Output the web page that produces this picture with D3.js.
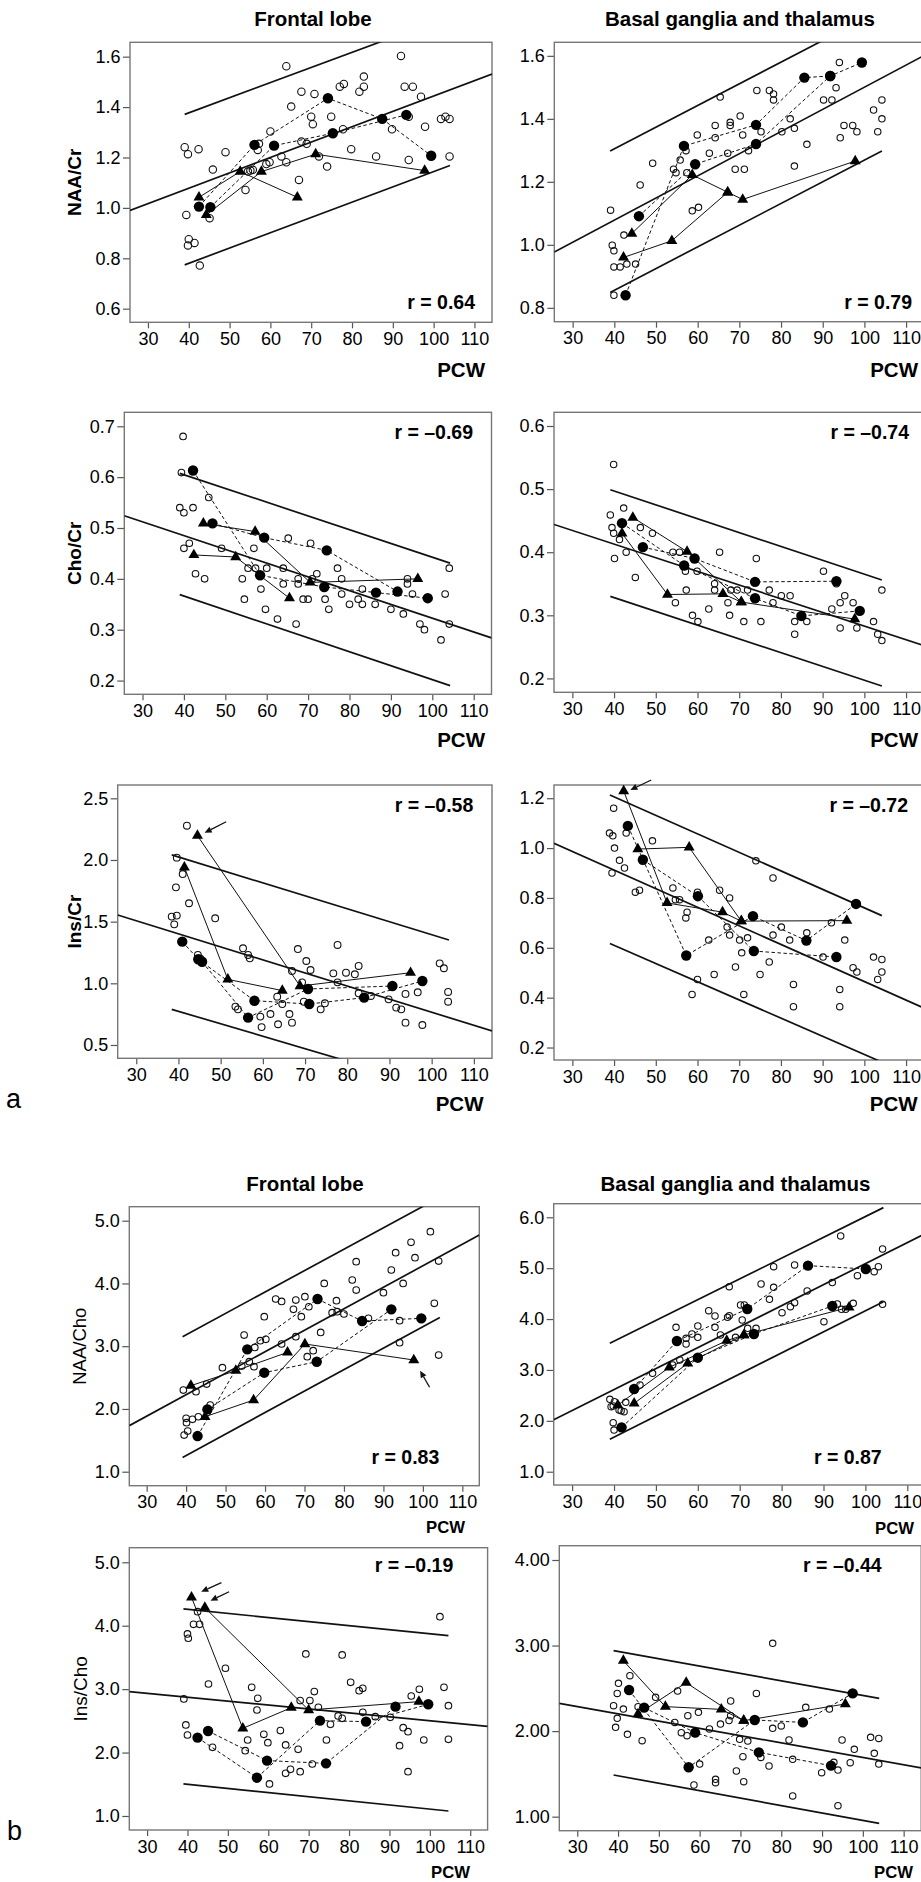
<!DOCTYPE html>
<html><head><meta charset="utf-8">
<script src="https://cdn.jsdelivr.net/npm/d3@7"></script>
<style>
body{margin:0;background:#fff}
svg{display:block}
text{font-family:"Liberation Sans",Arial,Helvetica,sans-serif;fill:#000}
</style>
</head><body>
<svg id="c" width="921" height="1882"></svg>
<script>
// ---------- shared axis values ----------
const xTicks = [30,40,50,60,70,80,90,100,110];
const xDomain = [25.6,114.3];

// ---------- Panel a1 left: NAA/Cr, frontal lobe ----------
const naaCrFL_open = [[39.0,1.241],[39.8,1.213],[42.4,1.233],[39.4,0.972],[40.0,0.876],[39.8,0.851],[41.4,0.861],[42.7,0.771],[45.9,1.152],[49.0,1.221],[45.1,0.959],[53.9,1.071],[54.5,1.144],[55.1,1.148],[55.7,1.151],[57.2,1.254],[56.9,1.230],[60.0,1.303],[59.0,1.174],[59.8,1.181],[62.7,1.204],[63.9,1.181],[63.9,1.562],[65.1,1.402],[67.6,1.461],[67.0,1.111],[67.6,1.263],[68.9,1.254],[70.0,1.362],[70.4,1.332],[70.8,1.452],[71.9,1.204],[73.9,1.164],[74.9,1.362],[77.8,1.312],[77.0,1.481],[78.0,1.492],[79.8,1.233],[81.8,1.461],[82.9,1.481],[82.9,1.521],[85.9,1.204],[89.8,1.312],[92.0,1.603],[92.9,1.481],[93.9,1.190],[93.9,1.362],[94.9,1.481],[96.9,1.441],[97.9,1.322],[101.8,1.353],[102.9,1.362],[103.9,1.353],[103.9,1.204]];
const naaCrFL_circ = [[[42.5,1.005],[56.1,1.250],[74.1,1.435],[87.4,1.353],[99.4,1.207]],[[45.3,1.003],[60.9,1.247],[75.3,1.296],[93.3,1.369]]];
const naaCrFL_tri = [[[42.5,1.042],[52.6,1.144],[66.6,1.042]],[[44.3,0.972],[57.8,1.144],[71.1,1.213],[97.8,1.148]]];
const naaCrFL_fit = [[[25.6,0.990],[114.3,1.531]],[[39,1.371],[104,1.761]],[[39,0.774],[104,1.168]]];

// ---------- Panel a1 right: NAA/Cr, basal ganglia ----------
const naaCrBG_open = [[39.1,1.110],[39.5,0.999],[39.9,0.981],[39.9,0.930],[41.4,0.930],[42.3,1.031],[43.0,0.939],[45.1,0.939],[39.9,0.840],[46.2,1.190],[49.2,1.259],[54.2,1.240],[54.8,1.229],[55.8,1.269],[57.2,1.299],[57.4,1.229],[58.7,1.108],[60.2,1.119],[59.9,1.349],[62.8,1.291],[64.2,1.340],[64.2,1.379],[65.4,1.469],[67.2,1.291],[67.8,1.389],[67.8,1.379],[69.0,1.240],[70.2,1.409],[70.8,1.349],[71.2,1.240],[72.2,1.299],[74.2,1.490],[75.2,1.359],[77.2,1.490],[78.2,1.479],[78.2,1.460],[80.2,1.359],[82.2,1.400],[83.2,1.370],[83.2,1.250],[86.2,1.319],[90.2,1.460],[92.2,1.460],[93.2,1.499],[94.0,1.579],[94.2,1.340],[95.1,1.379],[97.2,1.379],[98.2,1.359],[102.2,1.428],[103.2,1.359],[104.2,1.460],[104.2,1.400]];
const naaCrBG_circ = [[[42.7,0.840],[56.7,1.314],[74.0,1.381],[85.6,1.531],[91.8,1.536]],[[45.9,1.091],[59.4,1.256],[74.0,1.320],[91.8,1.536],[99.4,1.579]]];
const naaCrBG_tri = [[[44.2,1.036],[58.7,1.222],[67.2,1.167],[70.8,1.144],[97.8,1.266]],[[42.2,0.960],[53.8,1.013],[67.2,1.167]]];
const naaCrBG_fit = [[[25.6,0.977],[114.3,1.601]],[[39,1.298],[104,1.745]],[[39,0.849],[104.2,1.298]]];

// ---------- Panel a2 left: Cho/Cr, frontal lobe ----------
const choCrFL_open = [[39.8,0.680],[39.4,0.609],[39.0,0.540],[40.0,0.530],[42.2,0.540],[40.0,0.460],[41.3,0.470],[42.8,0.410],[45.0,0.400],[46.0,0.560],[49.1,0.460],[54.1,0.400],[54.6,0.360],[55.5,0.421],[56.9,0.460],[57.3,0.421],[58.6,0.380],[59.7,0.340],[60.0,0.421],[62.6,0.321],[64.0,0.421],[64.0,0.390],[65.2,0.480],[67.1,0.311],[67.6,0.400],[67.6,0.390],[68.8,0.360],[70.0,0.360],[70.6,0.470],[72.1,0.410],[71.0,0.400],[74.1,0.360],[75.0,0.340],[77.1,0.421],[78.1,0.400],[78.1,0.370],[80.0,0.350],[82.1,0.360],[83.1,0.350],[83.1,0.380],[86.2,0.350],[90.0,0.340],[93.0,0.331],[94.0,0.400],[94.0,0.390],[95.2,0.370],[97.0,0.311],[98.1,0.300],[102.1,0.280],[103.1,0.370],[104.1,0.421],[104.1,0.311]];
const choCrFL_circ = [[[42.2,0.613],[58.4,0.407],[73.9,0.384],[86.4,0.373],[98.9,0.362]],[[46.9,0.509],[59.4,0.481],[74.5,0.456],[91.6,0.375]]];
const choCrFL_tri = [[[42.4,0.447],[52.5,0.443],[65.5,0.362]],[[44.7,0.509],[57.2,0.493],[70.5,0.393],[96.5,0.400]]];
const choCrFL_fit = [[[25.6,0.524],[114.3,0.284]],[[39,0.6075],[104.3,0.431]],[[39,0.369],[104.3,0.190]]];

// ---------- Panel a2 right: Cho/Cr, basal ganglia ----------
const choCrBG_open = [[39.9,0.539],[39.1,0.459],[39.5,0.439],[39.9,0.430],[41.3,0.420],[40.1,0.390],[42.3,0.470],[42.9,0.400],[45.1,0.360],[46.3,0.439],[49.2,0.430],[54.1,0.400],[55.7,0.400],[57.1,0.370],[59.9,0.370],[57.3,0.340],[54.7,0.320],[58.8,0.300],[60.1,0.290],[62.7,0.310],[64.1,0.350],[64.1,0.340],[65.3,0.400],[67.3,0.320],[67.7,0.300],[68.0,0.340],[69.5,0.340],[71.1,0.290],[72.0,0.340],[74.1,0.390],[75.2,0.290],[77.2,0.340],[78.1,0.320],[80.1,0.331],[82.2,0.331],[83.3,0.290],[83.3,0.270],[86.2,0.290],[90.2,0.370],[92.2,0.310],[94.2,0.280],[94.2,0.320],[95.3,0.331],[97.3,0.320],[93.3,0.350],[98.2,0.280],[102.2,0.290],[103.2,0.270],[104.2,0.340],[104.2,0.260]];
const choCrBG_circ = [[[41.9,0.446],[56.8,0.379],[73.8,0.327],[84.9,0.299],[98.9,0.307]],[[46.9,0.408],[59.3,0.390],[73.8,0.353],[93.3,0.354]]];
const choCrBG_tri = [[[44.5,0.455],[57.5,0.401],[70.5,0.321],[97.7,0.294]],[[41.9,0.430],[52.8,0.333],[66.1,0.334],[70.5,0.321]]];
const choCrBG_fit = [[[25.6,0.444],[114.3,0.252]],[[39.1,0.499],[104.2,0.356]],[[39.1,0.330],[104.2,0.188]]];

// ---------- Panel a3 left: Ins/Cr, frontal lobe ----------
const insCrFL_open = [[42.0,2.278],[39.6,2.019],[41.0,1.886],[39.4,1.778],[42.5,1.649],[38.4,1.541],[39.6,1.549],[39.0,1.478],[48.7,1.527],[44.6,1.230],[45.6,1.168],[45.2,1.200],[55.3,1.284],[56.5,1.230],[56.9,1.203],[53.5,0.811],[54.1,0.789],[59.4,0.730],[59.7,0.645],[61.8,0.751],[63.4,0.892],[64.6,0.832],[63.6,0.668],[66.3,0.751],[66.9,0.681],[66.9,1.100],[68.3,1.278],[69.3,1.008],[70.3,1.181],[71.3,1.108],[69.7,0.851],[73.7,0.789],[74.7,0.838],[76.7,1.081],[77.7,1.311],[77.7,1.008],[79.7,1.086],[81.8,1.073],[82.7,1.141],[82.7,0.919],[85.6,0.897],[89.8,0.870],[91.6,0.803],[92.8,0.789],[93.8,0.914],[93.8,0.681],[96.7,0.927],[97.8,0.662],[101.9,1.162],[102.9,1.122],[103.9,0.930],[103.9,0.851]];
const insCrFL_circ = [[[40.9,1.338],[44.7,1.195],[58.0,0.859],[71.0,0.832],[84.0,0.884],[97.8,1.019]],[[45.6,1.175],[56.5,0.722],[70.7,0.954],[90.7,0.978]]];
const insCrFL_tri = [[[44.5,2.197],[68.8,0.978],[95.0,1.086]],[[41.4,1.941],[51.7,1.032],[64.6,0.941]]];
const insCrFL_fit = [[[25.6,1.554],[114.3,0.614]],[[38.4,2.041],[104.1,1.351]],[[38.4,0.789],[104.0,0.126]]];
const insCrFL_arrows = [[[51.3,2.310],[46.2,2.221]]];

// ---------- Panel a3 right: Ins/Cr, basal ganglia ----------
const insCrBG_open = [[39.9,1.160],[38.9,1.060],[39.7,1.049],[40.1,1.000],[41.3,0.951],[42.5,0.920],[39.5,0.900],[42.9,1.060],[49.2,1.029],[45.1,0.823],[46.1,0.831],[54.1,0.840],[54.7,0.793],[55.7,0.793],[57.5,0.743],[57.2,0.720],[60.0,0.823],[65.3,0.831],[67.7,0.800],[67.1,0.683],[67.7,0.651],[62.7,0.631],[70.1,0.631],[70.6,0.580],[72.0,0.640],[74.0,0.949],[78.1,0.880],[78.1,0.651],[80.1,0.683],[82.1,0.631],[86.2,0.660],[92.1,0.700],[90.1,0.563],[95.3,0.631],[97.3,0.520],[98.2,0.503],[102.2,0.563],[104.2,0.553],[104.2,0.503],[103.2,0.473],[77.2,0.543],[75.0,0.493],[69.1,0.523],[64.0,0.493],[60.0,0.473],[58.7,0.413],[71.1,0.413],[83.0,0.453],[83.0,0.364],[94.1,0.433],[94.1,0.364]];
const insCrBG_circ = [[[43.3,1.089],[57.3,0.569],[73.3,0.727],[86.1,0.629],[98.0,0.776]],[[46.9,0.953],[60.1,0.807],[73.5,0.587],[93.3,0.563]]];
const insCrBG_tri = [[[42.3,1.229],[52.7,0.780],[66.0,0.743],[70.5,0.707]],[[45.7,0.996],[58.0,1.003],[70.5,0.707],[95.8,0.709]]];
const insCrBG_fit = [[[25.6,1.019],[114.3,0.358]],[[39,1.213],[104.2,0.729]],[[39,0.617],[104,0.143]]];
const insCrBG_arrows = [[[48.9,1.273],[43.9,1.233]]];

// ---------- Panel b1 left: NAA/Cho, frontal lobe ----------
const naaChoFL_open = [[39.3,2.301],[40.0,1.850],[40.1,1.781],[40.4,1.648],[39.5,1.584],[41.6,1.834],[42.5,2.275],[43.1,1.876],[45.2,2.397],[46.1,2.062],[49.2,2.657],[54.1,2.684],[54.7,3.178],[56.0,2.753],[57.2,2.673],[57.4,2.981],[58.8,3.088],[60.2,3.109],[59.8,3.470],[62.7,3.752],[64.2,3.714],[64.2,3.035],[67.2,3.587],[67.8,3.151],[67.8,3.735],[69.2,3.470],[70.1,3.789],[71.1,3.629],[70.7,2.833],[72.2,2.928],[74.1,3.220],[75.0,4.001],[77.0,3.534],[78.3,3.550],[78.1,3.725],[80.0,3.513],[82.1,4.055],[83.1,3.895],[83.1,4.347],[86.2,3.444],[90.0,3.853],[92.0,4.214],[93.1,4.490],[94.1,3.406],[94.1,3.056],[95.0,4.001],[97.0,4.655],[98.0,4.410],[101.9,4.825],[102.9,3.683],[104.0,4.357],[104.0,2.859]];
const naaChoFL_circ = [[[42.9,1.568],[55.5,2.950],[73.3,3.752],[84.6,3.401],[99.6,3.444]],[[45.4,1.993],[59.8,2.578],[73.1,2.753],[92.0,3.587]]];
const naaChoFL_tri = [[[41.2,2.371],[52.6,2.610],[65.7,2.902]],[[44.8,1.876],[57.1,2.142],[70.1,3.035],[97.7,2.780]]];
const naaChoFL_fit = [[[25.6,1.734],[114.3,4.771]],[[39.1,3.151],[104.3,5.374]],[[39.1,1.228],[104.3,3.459]]];
const naaChoFL_arrows = [[[101.7,2.345],[99.3,2.610]]];

// ---------- Panel b1 right: NAA/Cho, basal ganglia ----------
const naaChoBG_open = [[39.0,2.422],[39.8,2.291],[39.3,2.278],[40.1,2.376],[41.2,2.212],[41.7,2.199],[42.4,2.180],[42.8,2.363],[39.8,1.963],[40.0,1.819],[46.2,2.704],[49.2,2.933],[54.8,3.838],[54.0,3.097],[55.7,3.195],[57.2,3.621],[57.2,3.510],[58.6,3.706],[60.0,3.864],[60.0,3.641],[62.6,4.165],[64.1,4.060],[64.1,3.838],[65.4,3.687],[67.5,4.637],[67.1,4.034],[67.5,4.067],[69.0,3.641],[70.2,4.277],[70.6,3.982],[71.1,4.277],[71.9,3.818],[73.9,3.818],[75.1,4.689],[77.1,4.388],[78.1,5.030],[78.1,4.624],[80.1,4.126],[82.1,4.244],[83.1,4.322],[83.1,5.063],[86.1,4.552],[90.1,3.949],[92.1,4.716],[93.3,4.296],[94.3,4.191],[94.1,5.633],[95.3,4.191],[97.1,4.309],[98.1,4.853],[102.1,4.932],[103.1,5.030],[104.1,5.377],[104.1,4.290]];
const naaChoBG_circ = [[[44.8,2.625],[55.0,3.569],[71.8,4.198],[86.3,5.050],[100.1,4.984]],[[41.8,1.872],[60.0,3.241],[73.4,3.706],[92.1,4.257]]];
const naaChoBG_tri = [[[40.9,2.311],[53.2,3.051],[66.9,3.575],[71.0,3.687],[96.1,4.231]],[[44.8,2.343],[57.6,3.130],[71.0,3.687]]];
const naaChoBG_fit = [[[25.6,2.021],[114.3,5.678]],[[39,3.523],[104.3,6.190]],[[39,1.636],[104.3,4.342]]];

// ---------- Panel b2 left: Ins/Cho, frontal lobe ----------
const insChoFL_open = [[39.1,2.845],[39.6,2.435],[40.0,2.277],[40.0,3.870],[40.2,3.802],[41.5,4.022],[43.0,4.022],[42.5,4.222],[45.2,3.081],[46.2,2.083],[49.4,3.329],[54.3,2.030],[54.9,2.198],[55.9,3.028],[57.4,2.855],[57.2,2.671],[58.9,2.288],[59.9,2.156],[60.3,1.505],[63.0,2.346],[64.3,1.673],[64.3,2.120],[65.5,1.736],[67.4,2.051],[67.9,1.699],[67.9,2.819],[69.3,3.555],[70.3,2.819],[71.4,2.961],[72.4,2.714],[70.9,1.820],[74.4,2.198],[75.4,2.445],[77.3,2.577],[78.3,2.540],[78.3,3.539],[80.4,3.108],[82.5,2.976],[83.4,3.013],[83.4,2.635],[86.5,2.566],[90.2,2.556],[93.4,2.393],[92.5,2.109],[94.6,2.330],[94.6,1.699],[95.4,2.892],[97.4,2.997],[98.5,2.198],[102.5,4.143],[103.5,3.029],[104.6,2.740],[104.6,2.209]];
const insChoFL_circ = [[[42.5,2.235],[57.2,1.604],[72.8,2.503],[84.2,2.488],[99.6,2.761]],[[45.1,2.340],[59.7,1.873],[74.3,1.830],[91.5,2.724]]];
const insChoFL_tri = [[[41.0,4.448],[53.7,2.382],[65.7,2.708]],[[44.3,4.285],[70.0,2.671],[97.3,2.803]]];
const insChoFL_fit = [[[25.6,2.962],[114.3,2.412]],[[39,4.264],[104.6,3.844]],[[39,1.505],[104.6,1.079]]];
const insChoFL_arrows = [[[48.4,4.678],[43.4,4.536]],[[50.3,4.536],[45.7,4.394]]];

// ---------- Panel b2 right: Ins/Cho, basal ganglia ----------
const insChoBG_open = [[38.9,2.297],[40.1,2.558],[39.8,2.441],[39.8,2.149],[39.4,2.044],[41.3,2.258],[42.3,1.962],[42.9,2.648],[44.9,2.286],[45.9,1.888],[49.2,2.395],[54.6,2.469],[53.9,2.102],[55.5,1.982],[56.9,1.947],[57.1,2.180],[59.7,2.219],[60.0,1.615],[58.6,1.370],[62.4,2.025],[63.9,1.436],[63.9,1.397],[65.1,2.082],[67.2,2.124],[67.6,2.180],[67.6,2.352],[69.8,1.904],[70.6,1.701],[70.8,1.409],[69.0,1.534],[71.8,1.884],[73.9,2.441],[75.0,1.693],[77.0,1.592],[77.9,3.026],[77.9,2.032],[80.0,2.060],[81.9,1.896],[82.8,1.670],[82.8,1.242],[86.0,2.278],[89.9,1.514],[91.8,2.258],[92.9,1.635],[93.9,1.545],[93.9,1.129],[94.9,1.896],[96.9,1.631],[97.9,1.787],[101.9,1.927],[102.8,1.740],[103.9,1.915],[103.9,1.615]];
const insChoBG_circ = [[[42.7,2.480],[57.3,1.577],[73.5,2.130],[85.3,2.102],[97.5,2.441]],[[46.4,2.274],[58.9,1.982],[74.5,1.752],[92.2,1.596]]];
const insChoBG_tri = [[[41.3,2.823],[51.6,2.286],[65.3,2.254],[70.8,2.122]],[[44.9,2.200],[56.7,2.566],[70.8,2.122],[95.7,2.317]]];
const insChoBG_fit = [[[25.6,2.325],[114.3,1.570]],[[38.9,2.940],[104.0,2.383]],[[38.9,1.487],[104.0,0.922]]];

// ---------- axis tick values and labels ----------
const yTicks_naaCrFL = [0.6,0.8,1.0,1.2,1.4,1.6];
const yTicks_naaCrBG = [0.8,1.0,1.2,1.4,1.6];
const yTicks_choCrFL = [0.2,0.3,0.4,0.5,0.6,0.7];
const yTicks_choCrBG = [0.2,0.3,0.4,0.5,0.6];
const yTicks_insCrFL = [0.5,1.0,1.5,2.0,2.5];
const yTicks_insCrBG = [0.2,0.4,0.6,0.8,1.0,1.2];
const yTicks_naaChoFL = [1,2,3,4,5];
const yTicks_naaChoBG = [1,2,3,4,5,6];
const yTicks_insChoFL = [1,2,3,4,5];
const yTicks_insChoBG = [1,2,3,4];
const rLabels = ["r = 0.64","r = 0.79","r = \u20130.69","r = \u20130.74","r = \u20130.58","r = \u20130.72","r = 0.83","r = 0.87","r = \u20130.19","r = \u20130.44"];
const yLabels = ["NAA/Cr","","Cho/Cr","","Ins/Cr","","NAA/Cho","","Ins/Cho",""];
const regionTitles = ["Frontal lobe","Basal ganglia and thalamus"];

// ---------- layout (positions only) ----------
const panels = [
 {open:naaCrFL_open,circ:naaCrFL_circ,tri:naaCrFL_tri,fit:naaCrFL_fit,arrows:[],yT:yTicks_naaCrFL,fmt:".1f",
  L:130,T:42.3,R:492,B:322.3,yd:[0.546,1.657],ro:3.7,title:[313,26,0],rx:475,ry:309,px:485,py:376.7,ps:20.5,yl:[74,0,true,19]},
 {open:naaCrBG_open,circ:naaCrBG_circ,tri:naaCrBG_tri,fit:naaCrBG_fit,arrows:[],yT:yTicks_naaCrBG,fmt:".1f",
  L:554.3,T:42.3,R:924,B:321.7,yd:[0.756,1.643],ro:3.2,title:[740,26,1],rx:912,ry:309,px:918,py:376.7,ps:20.5,yl:null},
 {open:choCrFL_open,circ:choCrFL_circ,tri:choCrFL_tri,fit:choCrFL_fit,arrows:[],yT:yTicks_choCrFL,fmt:".1f",
  L:124.3,T:412.3,R:491.5,B:694.3,yd:[0.173,0.7275],ro:3.3,title:null,rx:473,ry:439,px:485,py:747.3,ps:20.5,yl:[74,0,true,19]},
 {open:choCrBG_open,circ:choCrBG_circ,tri:choCrBG_tri,fit:choCrBG_fit,arrows:[],yT:yTicks_choCrBG,fmt:".1f",
  L:554,T:412.3,R:924,B:692.3,yd:[0.178,0.6217],ro:3.2,title:null,rx:909,ry:439,px:918,py:747.3,ps:20.5,yl:null},
 {open:insCrFL_open,circ:insCrFL_circ,tri:insCrFL_tri,fit:insCrFL_fit,arrows:insCrFL_arrows,yT:yTicks_insCrFL,fmt:".1f",
  L:117.7,T:785,R:492,B:1058.3,yd:[0.392,2.608],ro:3.4,title:null,rx:473.3,ry:811.7,px:483.5,py:1110.7,ps:20.5,yl:[74,0,true,19]},
 {open:insCrBG_open,circ:insCrBG_circ,tri:insCrBG_tri,fit:insCrBG_fit,arrows:insCrBG_arrows,yT:yTicks_insCrBG,fmt:".1f",
  L:554,T:785,R:924,B:1060,yd:[0.15,1.253],ro:3.2,title:null,rx:908,ry:811.7,px:917.6,py:1110.7,ps:20.5,yl:null},
 {open:naaChoFL_open,circ:naaChoFL_circ,tri:naaChoFL_tri,fit:naaChoFL_fit,arrows:naaChoFL_arrows,yT:yTicks_naaChoFL,fmt:".1f",
  L:129.3,T:1206.7,R:479.3,B:1485.7,yd:[0.777,5.223],ro:3.3,title:[305,1190.7,0],rx:439.3,ry:1464.3,px:465,py:1533.3,ps:16.7,yl:[80,0,false,18.5]},
 {open:naaChoBG_open,circ:naaChoBG_circ,tri:naaChoBG_tri,fit:naaChoBG_fit,arrows:[],yT:yTicks_naaChoBG,fmt:".1f",
  L:553.7,T:1203.7,R:925.3,B:1485,yd:[0.739,6.267],ro:3.2,title:[735.5,1190.7,1],rx:881.7,ry:1464.3,px:914,py:1534,ps:16.7,yl:null},
 {open:insChoFL_open,circ:insChoFL_circ,tri:insChoFL_tri,fit:insChoFL_fit,arrows:insChoFL_arrows,yT:yTicks_insChoFL,fmt:".1f",
  L:129.3,T:1547.7,R:487.6,B:1830,yd:[0.779,5.23],ro:3.3,title:null,rx:453.3,ry:1571.7,px:470,py:1878,ps:16.7,yl:[80,0,false,19]},
 {open:insChoBG_open,circ:insChoBG_circ,tri:insChoBG_tri,fit:insChoBG_fit,arrows:[],yT:yTicks_insChoBG,fmt:".2f",
  L:559.3,T:1545.7,R:921.2,B:1830.7,yd:[0.836,4.167],ro:3.2,title:null,rx:881.7,ry:1571.7,px:913,py:1878,ps:16.7,yl:null}
];

const svg = d3.select("#c");
const defs = svg.append("defs");
const ink = "#111";

panels.forEach((p, i) => {
  const x = d3.scaleLinear().domain(xDomain).range([p.L, p.R]);
  const y = d3.scaleLinear().domain(p.yd).range([p.B, p.T]);
  const g = svg.append("g");
  const cid = "clip" + i;
  defs.append("clipPath").attr("id", cid).append("rect")
    .attr("x", p.L).attr("y", p.T).attr("width", p.R - p.L).attr("height", p.B - p.T);

  // axes
  const ya = g.append("g").attr("transform", `translate(${p.L},0)`)
    .call(d3.axisLeft(y).tickValues(p.yT).tickFormat(d3.format(p.fmt)).tickSize(7).tickPadding(2.5));
  const xa = g.append("g").attr("transform", `translate(0,${p.B})`)
    .call(d3.axisBottom(x).tickValues(xTicks).tickFormat(d3.format("d")).tickSize(6).tickPadding(4));
  [ya, xa].forEach(a => {
    a.select(".domain").remove();
    a.selectAll(".tick line").attr("stroke", "#555").attr("stroke-width", 1.2);
    a.selectAll(".tick text").attr("font-size", 18).attr("fill", "#000")
      .attr("font-family", '"Liberation Sans",Arial,sans-serif');
  });

  // frame
  g.append("rect").attr("x", p.L).attr("y", p.T).attr("width", p.R - p.L).attr("height", p.B - p.T)
    .attr("fill", "none").attr("stroke", "#777").attr("stroke-width", 1.4);

  const plot = g.append("g").attr("clip-path", `url(#${cid})`);
  const line = d3.line().x(d => x(d[0])).y(d => y(d[1]));

  // regression line and prediction bounds
  plot.selectAll(".fit").data(p.fit).join("path").attr("d", line)
    .attr("fill", "none").attr("stroke", ink).attr("stroke-width", 1.7);

  // open circles
  plot.selectAll(".o").data(p.open).join("circle")
    .attr("cx", d => x(d[0])).attr("cy", d => y(d[1])).attr("r", p.ro)
    .attr("fill", "none").attr("stroke", ink).attr("stroke-width", 1.1);

  // dashed series (filled circles)
  plot.selectAll(".dl").data(p.circ).join("path").attr("d", line)
    .attr("fill", "none").attr("stroke", ink).attr("stroke-width", 1).attr("stroke-dasharray", "3.5,2.5");
  // solid series (triangles)
  plot.selectAll(".tl").data(p.tri).join("path").attr("d", line)
    .attr("fill", "none").attr("stroke", ink).attr("stroke-width", 1);

  plot.selectAll(".fc").data(p.circ.flat()).join("circle")
    .attr("cx", d => x(d[0])).attr("cy", d => y(d[1])).attr("r", 5.2).attr("fill", "#000");
  const tri = d3.symbol().type(d3.symbolTriangle).size(52);
  plot.selectAll(".ft").data(p.tri.flat()).join("path")
    .attr("d", tri).attr("transform", d => `translate(${x(d[0])},${y(d[1])})`).attr("fill", "#000");

  // arrows
  p.arrows.forEach(a => {
    const x1 = x(a[0][0]), y1 = y(a[0][1]), x2 = x(a[1][0]), y2 = y(a[1][1]);
    const dx = x2 - x1, dy = y2 - y1, len = Math.hypot(dx, dy), ux = dx / len, uy = dy / len;
    const hl = 7, hw = 3.2;
    const bx = x2 - ux * hl, by = y2 - uy * hl;
    g.append("line").attr("x1", x1).attr("y1", y1).attr("x2", bx).attr("y2", by)
      .attr("stroke", ink).attr("stroke-width", 1.3);
    g.append("path").attr("d", `M${x2},${y2}L${bx - uy * hw},${by + ux * hw}L${bx + uy * hw},${by - ux * hw}Z`).attr("fill", ink);
  });

  // r label
  g.append("text").attr("x", p.rx).attr("y", p.ry).attr("text-anchor", "end")
    .attr("font-size", 19.5).attr("font-weight", "bold").text(rLabels[i]);
  // PCW label
  g.append("text").attr("x", p.px).attr("y", p.py).attr("text-anchor", "end")
    .attr("font-size", p.ps).attr("font-weight", "bold").text("PCW");
  // y label
  if (p.yl) {
    const cy = (p.T + p.B) / 2;
    g.append("text").attr("transform", `translate(${p.yl[0]},${cy}) rotate(-90)`)
      .attr("text-anchor", "middle").attr("dy", "0.35em")
      .attr("font-size", p.yl[3]).attr("font-weight", p.yl[2] ? "bold" : "normal").text(yLabels[i]);
  }
  // region title
  if (p.title) {
    g.append("text").attr("x", p.title[0]).attr("y", p.title[1]).attr("text-anchor", "middle")
      .attr("font-size", 20.5).attr("font-weight", "bold").text(regionTitles[p.title[2]]);
  }
});

svg.append("text").attr("x", 6).attr("y", 1108).attr("font-size", 27).text("a");
svg.append("text").attr("x", 7).attr("y", 1840).attr("font-size", 27).text("b");
</script>
</body></html>
